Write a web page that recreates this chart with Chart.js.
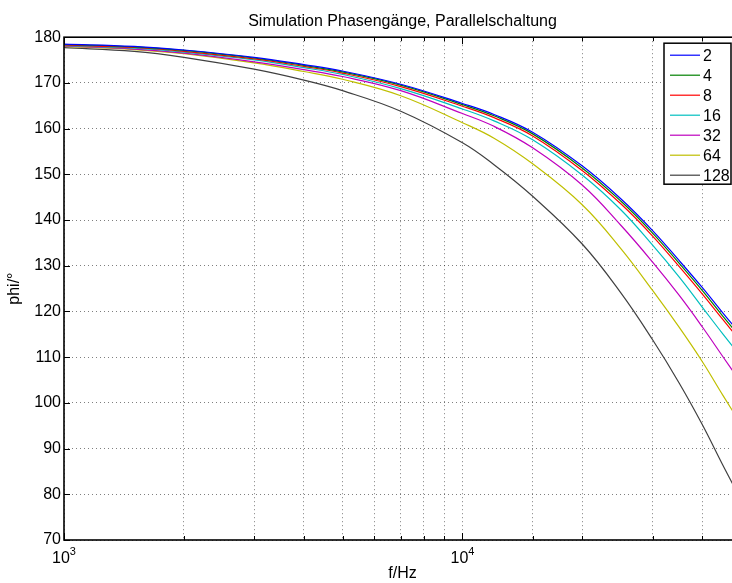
<!DOCTYPE html>
<html>
<head>
<meta charset="utf-8">
<script src="https://cdn.jsdelivr.net/npm/chart.js@4/dist/chart.umd.min.js"></script>
<style>
  html, body { margin: 0; padding: 0; background: #fff; }
  #wrap { width: 732px; height: 583px; overflow: hidden; }
  canvas { display: block; }
</style>
</head>
<body>
<div id="wrap"><canvas id="chart" width="741" height="583" style="width:741px;height:583px"></canvas></div>
<script>
"use strict";

// frequencies in Hz
const freqs = [1000, 1500, 2000, 3000, 4000, 5000, 7000, 10000, 12000, 15000, 20000, 25000, 30000, 35000, 40000, 45000, 50000];

// phase in degrees, one array per curve
const phi2   = [178.5, 178.0, 177.2, 175.6, 174.0, 172.6, 169.7, 165.5, 163.1, 159.2, 151.8, 144.6, 137.7, 131.1, 125.2, 119.7, 114.9];
const phi4   = [178.4, 177.9, 177.1, 175.45, 173.85, 172.4, 169.5, 165.25, 162.8, 158.85, 151.35, 144.1, 137.15, 130.5, 124.55, 119.0, 114.15];
const phi8   = [178.3, 177.75, 176.9, 175.25, 173.6, 172.15, 169.2, 164.9, 162.4, 158.4, 150.8, 143.5, 136.5, 129.8, 123.8, 118.25, 113.4];
const phi16  = [178.2, 177.6, 176.75, 175.05, 173.35, 171.85, 168.75, 164.3, 161.7, 157.55, 149.8, 142.2, 134.5, 127.5, 120.9, 115.1, 110.1];
const phi32  = [178.1, 177.4, 176.5, 174.6, 172.9, 171.4, 168.3, 163.3, 160.5, 155.8, 147.6, 138.8, 130.8, 123.5, 116.6, 110.15, 104.4];
const phi64  = [178.0, 177.3, 176.4, 174.4, 172.5, 170.8, 167.2, 161.3, 157.9, 152.3, 143.3, 133.7, 124.6, 116.5, 109.0, 101.7, 95.3];
const phi128 = [177.7, 176.9, 175.6, 173.0, 170.6, 168.3, 163.8, 156.9, 152.1, 145.2, 134.7, 124.0, 113.8, 104.3, 95.2, 86.4, 78.8];

const seriesLabels = ["2", "4", "8", "16", "32", "64", "128"];
const seriesValues = [phi2, phi4, phi8, phi16, phi32, phi64, phi128];
const seriesColors = ["#0000ff", "#008000", "#ff0000", "#00bfbf", "#bf00bf", "#bfbf00", "#404040"];

// decade labels on the x axis (drawn as 10^n)
const xDecades = [1000, 10000];

const FONT = '"Liberation Sans", Arial, Helvetica, sans-serif';
Chart.defaults.font.family = FONT;
Chart.defaults.color = "#000";

// MATLAB-like axes box, inward ticks, exponent labels and boxed legend
const matlabAxes = {
  id: "matlabAxes",
  afterDraw(chart) {
    const ctx = chart.ctx;
    const a = chart.chartArea;
    const x = chart.scales.x;
    const y = chart.scales.y;
    ctx.save();

    // inward ticks
    ctx.strokeStyle = "#000";
    ctx.lineWidth = 1;
    ctx.beginPath();
    y.ticks.forEach(t => {
      const py = Math.round(y.getPixelForValue(t.value)) + 0.5;
      ctx.moveTo(a.left, py); ctx.lineTo(a.left + 6, py);
      ctx.moveTo(a.right, py); ctx.lineTo(a.right - 6, py);
    });
    x.ticks.forEach(t => {
      const px = Math.round(x.getPixelForValue(t.value)) + 0.5;
      const len = xDecades.includes(t.value) ? 7 : 4;
      ctx.moveTo(px, a.bottom); ctx.lineTo(px, a.bottom - len);
      ctx.moveTo(px, a.top); ctx.lineTo(px, a.top + len);
    });
    ctx.stroke();

    // box
    ctx.lineWidth = 1.6;
    ctx.strokeRect(a.left, a.top, a.right - a.left, a.bottom - a.top);

    // x labels 10^n
    ctx.fillStyle = "#000";
    ctx.textBaseline = "alphabetic";
    ctx.textAlign = "left";
    xDecades.forEach(v => {
      const px = x.getPixelForValue(v);
      const exp = String(Math.round(Math.log10(v)));
      ctx.font = "16px " + FONT;
      const w1 = ctx.measureText("10").width;
      ctx.font = "11px " + FONT;
      const w2 = ctx.measureText(exp).width;
      const x0 = px - (w1 + w2) / 2;
      ctx.font = "16px " + FONT;
      ctx.fillText("10", x0, a.bottom + 23);
      ctx.font = "11px " + FONT;
      ctx.fillText(exp, x0 + w1, a.bottom + 15);
    });

    // legend
    const lw = 67, lh = 141;
    const lx = a.right - 10 - lw;
    const ly = a.top + 6;
    ctx.fillStyle = "#fff";
    ctx.fillRect(lx, ly, lw, lh);
    ctx.lineWidth = 1.5;
    ctx.strokeStyle = "#000";
    ctx.strokeRect(lx, ly, lw, lh);
    ctx.font = "16px " + FONT;
    ctx.textBaseline = "middle";
    chart.data.datasets.forEach((ds, i) => {
      const cy = ly + 12 + i * 20;
      ctx.strokeStyle = ds.borderColor;
      ctx.lineWidth = 1.2;
      ctx.beginPath();
      ctx.moveTo(lx + 6, cy);
      ctx.lineTo(lx + 36, cy);
      ctx.stroke();
      ctx.fillStyle = "#000";
      ctx.fillText(ds.label, lx + 39, cy + 1);
    });
    ctx.restore();
  }
};

const datasets = seriesLabels.map((label, i) => ({
  label: label,
  data: freqs.map((f, j) => ({ x: f, y: seriesValues[i][j] })),
  borderColor: seriesColors[i],
  backgroundColor: seriesColors[i],
  borderWidth: 1.2,
  pointRadius: 0,
  fill: false,
  tension: 0.4
}));

const gridColor = "rgba(0,0,0,0.5)";

new Chart(document.getElementById("chart").getContext("2d"), {
  type: "line",
  data: { datasets: datasets },
  options: {
    responsive: false,
    animation: false,
    devicePixelRatio: 1,
    layout: { padding: 0 },
    plugins: {
      legend: { display: false },
      tooltip: { enabled: false },
      title: {
        display: true,
        fullSize: false,
        text: "Simulation Phasengänge, Parallelschaltung",
        font: { size: 16, weight: "normal" },
        color: "#000",
        padding: { top: 12, bottom: 6 }
      }
    },
    scales: {
      x: {
        type: "logarithmic",
        min: 1000,
        max: 50000,
        afterFit(scale) { scale.height = 43; },
        ticks: { display: false, autoSkip: false },
        grid: { color: gridColor, lineWidth: 1, drawTicks: false },
        border: { display: false, dash: [1, 3] },
        title: {
          display: true,
          text: "f/Hz",
          font: { size: 16 },
          color: "#000",
          padding: { top: 0, bottom: 0 }
        }
      },
      y: {
        type: "linear",
        min: 70,
        max: 180,
        afterFit(scale) { scale.width = 64; },
        ticks: { stepSize: 10, font: { size: 16 }, color: "#000", padding: 3 },
        grid: { color: gridColor, lineWidth: 1, drawTicks: false },
        border: { display: false, dash: [1, 3] },
        title: {
          display: true,
          text: "phi/°",
          font: { size: 16 },
          color: "#000",
          padding: { top: 5, bottom: 0 }
        }
      }
    }
  },
  plugins: [matlabAxes]
});
</script>
</body>
</html>
